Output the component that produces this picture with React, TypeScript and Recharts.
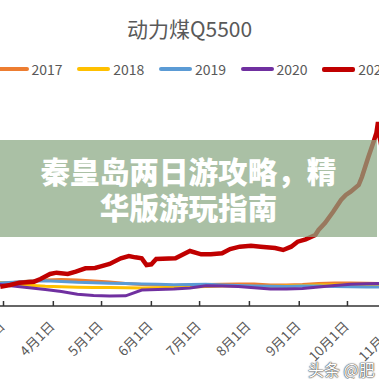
import { LineChart, Line, XAxis, YAxis, Legend } from "recharts";

// day of year (Jan 1 = 0)
const baseDays = [55, 65, 75, 85, 95, 105, 115, 125, 135, 145, 155, 165, 175, 185, 195, 205, 215, 225, 235, 245, 255, 265, 275, 285, 295];
const coal2017 = [674, 682, 700, 712, 718, 712, 700, 688, 670, 658, 652, 646, 652, 658, 662, 664, 664, 652, 652, 658, 670, 676, 676, 674, 670];
const coal2018 = [684, 666, 648, 636, 630, 626, 622, 622, 618, 616, 620, 624, 629, 634, 640, 640, 635, 636, 640, 646, 652, 656, 657, 650, 646];
const coal2019 = [674, 684, 698, 704, 695, 684, 678, 674, 670, 664, 660, 654, 657, 660, 651, 646, 641, 636, 635, 640, 640, 635, 630, 628, 628];
const coal2020 = [660, 641, 620, 598, 573, 542, 526, 520, 522, 592, 598, 604, 616, 644, 640, 633, 618, 604, 604, 610, 628, 646, 660, 666, 670];

const days2021 = [57, 63, 69, 78, 82, 88, 92, 99, 104, 110, 116, 119, 125, 132, 137, 141, 145, 148, 151, 154, 166, 170, 175, 182, 188, 195, 200, 206, 213, 219, 228, 233, 238, 242, 247, 253, 255, 259, 264, 269, 272, 275, 280, 282, 286, 289, 291, 292, 293, 297, 302, 310];
const coal2021 = [632, 652, 680, 692, 724, 784, 800, 784, 812, 852, 856, 872, 904, 972, 1000, 984, 972, 892, 900, 964, 972, 1012, 1060, 1020, 1020, 1032, 1084, 1112, 1124, 1112, 1096, 1072, 1112, 1172, 1200, 1252, 1312, 1396, 1528, 1672, 1732, 1772, 1852, 1948, 2188, 2356, 2476, 2608, 2428, 2032, 1600, 1200];

const monthTicks = [59, 90, 120, 151, 181, 212, 243, 273, 304];
const monthLabels = ["3月1日", "4月1日", "5月1日", "6月1日", "7月1日", "8月1日", "9月1日", "10月1日", "11月1日"];

const series = [
  { key: "y2017", name: "2017", color: "#ED7D31", width: 3 },
  { key: "y2018", name: "2018", color: "#FFC000", width: 3 },
  { key: "y2019", name: "2019", color: "#5B9BD5", width: 3 },
  { key: "y2020", name: "2020", color: "#7030A0", width: 3 },
  { key: "y2021", name: "2021", color: "#C00000", width: 4.5 },
];

// one row per day, missing values left null (lines use connectNulls)
const allDays = Array.from(new Set([...baseDays, ...days2021])).sort((a, b) => a - b);
const chartData = allDays.map((d) => {
  const bi = baseDays.indexOf(d);
  const ri = days2021.indexOf(d);
  return {
    day: d,
    y2017: bi >= 0 ? coal2017[bi] : null,
    y2018: bi >= 0 ? coal2018[bi] : null,
    y2019: bi >= 0 ? coal2019[bi] : null,
    y2020: bi >= 0 ? coal2020[bi] : null,
    y2021: ri >= 0 ? coal2021[ri] : null,
  };
});

const FONT = '"Noto Sans CJK SC", "Noto Sans", sans-serif';

/* eslint-disable @typescript-eslint/no-explicit-any */
function MonthTick(props: any) {
  const { x, y, payload } = props;
  const idx = monthTicks.indexOf(payload.value);
  return (
    <g transform={`translate(${x},${y})`}>
      <line x1={0} y1={-5} x2={0} y2={0} stroke="#333" strokeWidth={1.5} />
      <text
        transform="translate(-2,17) rotate(-45)"
        textAnchor="end"
        dominantBaseline="central"
        fill="#595959"
        fontSize={13.5}
        fontFamily={FONT}
      >
        {monthLabels[idx]}
      </text>
    </g>
  );
}

function YearLegend(props: any) {
  const { payload } = props;
  return (
    <div style={{ display: "flex", fontFamily: FONT, fontSize: 14, color: "#595959", lineHeight: "18px" }}>
      {(payload || []).map((p: any) => {
        const s = series.find((x) => x.name === p.value);
        return (
          <div key={p.value} style={{ width: 81.7, display: "flex", alignItems: "center", flexShrink: 0 }}>
            <span style={{ width: 33, height: s?.width === 4.5 ? 5 : 3.5, background: p.color, borderRadius: 2, marginRight: 3 }} />
            <span>{p.value}</span>
          </div>
        );
      })}
    </div>
  );
}
/* eslint-enable @typescript-eslint/no-explicit-any */

export default function App() {
  return (
    <div style={{ position: "absolute", left: 0, top: 0, width: 379, height: 379, overflow: "hidden", background: "#fff" }}>
      <div
        style={{
          position: "absolute",
          left: 0,
          top: 15,
          width: 379,
          textAlign: "center",
          fontFamily: FONT,
          fontSize: 21,
          color: "#595959",
          lineHeight: "26px",
        }}
      >
        动力煤Q5500
      </div>
      <div style={{ position: "absolute", left: -19, top: 0 }}>
        <LineChart width={442} height={379} data={chartData} margin={{ top: 106, right: 0, bottom: 72, left: 0 }}>
          <XAxis
            type="number"
            dataKey="day"
            domain={[45, 320]}
            ticks={monthTicks}
            interval={0}
            height={1}
            tickSize={0}
            tickMargin={0}
            tickLine={false}
            axisLine={{ stroke: "#333", strokeWidth: 1.5 }}
            tick={<MonthTick />}
            allowDataOverflow
          />
          <YAxis type="number" domain={[400, 2800]} hide allowDataOverflow />
          <Legend
            layout="horizontal"
            verticalAlign="middle"
            align="center"
            content={<YearLegend />}
            wrapperStyle={{ top: 60, left: 14.5, width: 430 }}
          />
          {series.map((s) => (
            <Line
              key={s.key}
              dataKey={s.key}
              name={s.name}
              type="linear"
              stroke={s.color}
              strokeWidth={s.width}
              dot={false}
              connectNulls
              isAnimationActive={false}
            />
          ))}
        </LineChart>
      </div>
      <div
        style={{
          position: "absolute",
          left: 0,
          top: 140,
          width: 377,
          height: 97,
          background: "rgba(137,168,130,0.72)",
          color: "#fff",
          fontFamily: FONT,
          fontWeight: 900,
          fontSize: 29.6,
          lineHeight: "36px",
          textAlign: "center",
          display: "flex",
          alignItems: "center",
          justifyContent: "center",
        }}
      >
        <div style={{ width: 300 }}>秦皇岛两日游攻略，精华版游玩指南</div>
      </div>
      <div
        style={{
          position: "absolute",
          left: 308,
          top: 357,
          whiteSpace: "nowrap",
          fontFamily: FONT,
          fontSize: 16,
          color: "#fff",
          textShadow: "0 0 1px #444, 0 0 1px #444, 0 0 2px #666",
        }}
      >
        头条 @肥
      </div>
    </div>
  );
}
